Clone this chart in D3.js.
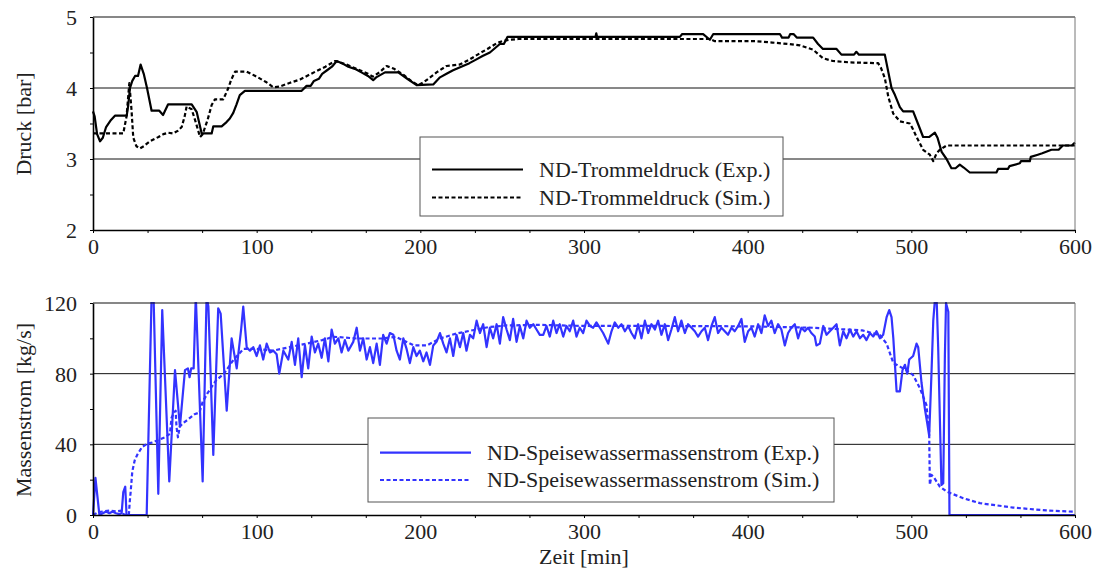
<!DOCTYPE html>
<html>
<head>
<meta charset="utf-8">
<script src="https://cdn.jsdelivr.net/npm/d3@7/dist/d3.min.js"></script>
<style>
  html, body { margin: 0; padding: 0; background: #fff; }
  svg { display: block; font-family: "Liberation Serif", "DejaVu Serif", serif; }
</style>
</head>
<body>
<svg id="chart" width="1095" height="572"></svg>
<script>
// ND-Trommeldruck, Messung [min] / [bar]
const druckExpZeit = [0,1,2.5,4.3,6,8,11,13.4,20.6,21.5,22.6,24,25.7,27.5,29.1,31,33,35.8,40.5,42.8,45.9,60.3,63.4,66.4,72.5,73.5,78.6,81.6,83.6,85.7,87.7,89.7,92.8,127.5,130.5,133,135,138,140,143,146,148.9,152,156,160,164,168,171.2,173,178.4,186.5,192,197.7,207.9,212,216,220,225,230,234,238,242.5,248.6,251,253.3,307,307.5,308,358.6,360,372.8,376.9,379,419.7,421,425,426,428,430,440,443,446,454.3,457.3,465,466.4,468,483.8,487.9,490,493,495,501.1,504,507.2,511,514.4,516,518.5,521.5,524.5,527,529.6,532,535.7,552,553,559,560,566.3,567,572.4,573,577.3,580,585.6,590,592.6,598,600];
const druckExpWert = [3.67,3.6,3.35,3.25,3.3,3.45,3.55,3.61,3.61,3.75,4.0,4.1,4.17,4.17,4.33,4.2,4.0,3.68,3.68,3.62,3.77,3.77,3.66,3.36,3.36,3.46,3.46,3.52,3.57,3.65,3.77,3.9,3.96,3.96,4.03,4.03,4.1,4.13,4.2,4.25,4.3,4.38,4.35,4.3,4.27,4.22,4.17,4.11,4.15,4.22,4.22,4.13,4.04,4.05,4.15,4.2,4.25,4.3,4.35,4.4,4.45,4.5,4.62,4.62,4.72,4.72,4.77,4.72,4.72,4.76,4.76,4.68,4.76,4.76,4.71,4.71,4.76,4.76,4.71,4.71,4.62,4.55,4.55,4.47,4.47,4.51,4.47,4.47,4.0,3.9,3.73,3.67,3.67,3.5,3.31,3.31,3.37,3.3,3.1,3.0,2.87,2.87,2.92,2.88,2.81,2.81,2.86,2.86,2.9,2.94,2.97,2.97,3.03,3.06,3.08,3.13,3.13,3.19,3.19,3.23];

// ND-Trommeldruck, Simulation
const druckSimZeit = [0,18.5,20.5,22.2,23.5,24.6,26.5,28.7,31,34.8,40,43,46,49,52,54.2,56,57.2,60.3,63,65.4,67,70,72.5,74.5,79.6,82.7,84.5,86.8,93.9,100,106,110.2,114,120,126.5,135,142,148,155,162,168,171,175,179.4,184,190,195,198.7,202,206,209.9,216,224,230,236.4,241,246.6,250,254.7,260,376.9,380,405,415,425,431.9,440,446,452,462.6,479.7,481.5,483.8,485.9,488.9,493,499.1,501,503.2,507.2,511.3,513.4,515.4,517.4,521.5,600];
const druckSimWert = [3.36,3.36,3.6,4.07,3.7,3.3,3.18,3.15,3.18,3.25,3.31,3.35,3.37,3.36,3.4,3.45,3.6,3.74,3.7,3.5,3.31,3.35,3.55,3.76,3.84,3.84,4.0,4.12,4.23,4.23,4.16,4.08,4.01,4.02,4.07,4.12,4.22,4.3,4.38,4.33,4.26,4.2,4.16,4.22,4.31,4.27,4.18,4.09,4.04,4.08,4.15,4.22,4.31,4.33,4.4,4.49,4.55,4.63,4.66,4.68,4.69,4.69,4.66,4.66,4.64,4.62,4.6,4.54,4.42,4.38,4.36,4.35,4.28,4.14,3.88,3.64,3.53,3.5,3.42,3.31,3.13,3.06,2.97,3.08,3.13,3.19,3.19];

// ND-Speisewassermassenstrom, Messung [min] / [kg/s]
const massExpZeit = [0,1.5,3.9,6,8,10,12,14,16,17.5,18.5,19.7,20.5,32.8,35.8,37,39.9,42.3,46.6,50.1,53.1,56.2,58,59,60,61.5,62.8,67,69.4,70.5,73.5,76.5,78,81.7,84.7,87.8,90.5,91.8,93.9,95.9,97.9,100,102,104,106.1,108.1,110.2,112.2,113.8,116.3,119.3,121.4,123.4,125.4,127.5,129.5,131.5,133.6,135.6,137.6,139.7,141.7,143.8,145.8,147.8,149.9,151.9,153.9,156,159,161.1,163.1,165.1,167.2,169.2,171.2,173.3,175.3,177.3,179.4,181.4,183.5,185.5,187.5,189.6,191.6,193.6,195.7,197.7,199.7,201.8,203.8,205.9,207.9,209.9,212,214,216,218.1,220.1,222.1,224.2,226.2,228.2,230.3,232.3,234.4,236.4,238.4,240.5,242.5,244.5,246.6,248.6,250.6,252.7,254.7,256.7,258.8,260.8,262.9,264.9,266.9,269,271,273,275.1,277.1,279.1,281.2,283.2,285.2,287.3,289.3,291.3,293.4,295.4,297.4,299.5,301.5,303.6,305.6,307.6,309.7,311.7,314.8,316.8,318.8,320.9,322.9,325,327,329,331,333.1,335.1,337.2,339.2,341.2,343.3,345.3,347.3,349.4,351.4,353.4,355.5,357.5,359.5,361.6,363.6,365.7,367.7,369.7,371.8,373.8,375.8,377.9,379.9,381.9,384,386,388,390.1,392.1,394.2,396.2,398.2,400.3,402.3,404.3,406.4,408.4,410.4,412.5,414.5,416.5,418.6,420.6,422.7,424.7,426.7,428.8,430.8,432.8,434.9,436.9,438.9,441,442,444.1,446.2,448.2,450.2,452.3,454.3,456.3,458.4,460.4,462.5,464.5,466.5,468.6,470.6,472.6,474.7,476.7,478.7,480.8,482.8,484.9,486.5,487.9,489,491,493,494.6,496.1,497.5,498.7,501.1,503.2,504.2,506.2,508.3,509.7,510.9,512.3,513.4,514.6,515.4,516.4,518.4,519.5,520.5,521.2,522.6,523.3,600];
const massExpWert = [0,21,0,1,2,1,2,1,0.5,1,13,16,0,0,124,124,12,116,19,82,50,82,83,78,83,83,124,19,124,118,34,117,114,59,100,83,105,118,95,93,95,90,96,88,97,92,93,91,80,93,88,98,85,100,78,96,83,101,92,97,89,100,87,105,97,100,92,99,93,98,106,93,100,88,95,86,97,85,102,97,103,102,93,88,100,94,86,95,90,93,87,92,85,96,98,103,97,92,100,90,102,95,103,93,102,100,110,103,108,95,106,100,108,97,112,105,99,111,98,107,100,110,106,108,105,102,102,107,101,110,103,108,101,107,104,110,101,106,103,110,107,106,109,106,103,97,104,109,106,108,104,107,103,100,108,100,110,103,108,105,110,102,108,99,105,112,104,110,103,108,106,104,101,104,106,99,107,112,103,106,104,102,106,104,107,111,98,104,106,101,108,103,113,107,110,103,108,105,96,103,106,108,100,106,104,106,103,101,96,97,107,102,104,106,108,96,104,100,105,101,104,100,102,99,103,101,104,100,102,112,116,112,100,70,70,82,85,80,88,90,97,95,75,60,52,45,80,110,124,124,95,17,18,90,120,115,0,0];

// ND-Speisewassermassenstrom, Simulation
const massSimZeit = [0,3,6,10,14,17.5,18.5,20,21.9,22.5,23,24,25.5,27,30,33.5,36,40,44,47,48,49.5,50.5,51,51.9,53,55,58,62,65,67,70,75,80,86,92,100,110,120,130.5,140,147,161,177,185,196,204,212,222,232,242,253,273,300,350,400,440,470,480.8,484.9,489,493,497,501,505.2,509.2,510.9,511.3,512.4,514,517.4,521.5,531.7,541.9,562.2,582.6,600];
const massSimWert = [0,1.5,2,2.5,2,2.5,0.5,0,0,8,13,24.6,31,34,38.5,40.5,41,42.5,44,46,55,58,59,50,44,50,52,54,57,58,64,69,76,80,88,94,94,93,95,97,99,100.9,99.9,99.9,100.9,96,96,99.9,102.7,104.6,106.4,107.3,107.6,107,107,106.8,106,104.5,101.8,97,86,84,82,79.3,71.8,62.3,47.3,17.1,22.7,21,16.1,13.3,9.5,6.7,4.2,2.6,1.8];

// Achsen
const zeitTicks = [0, 100, 200, 300, 400, 500, 600];
const druckTicks = [2, 3, 4, 5];
const massTicks = [0, 40, 80, 120];

const legendeDruck = ["ND-Trommeldruck (Exp.)", "ND-Trommeldruck (Sim.)"];
const legendeMasse = ["ND-Speisewassermassenstrom (Exp.)", "ND-Speisewassermassenstrom (Sim.)"];

const BLAU = "#3333ff";
const TEXT = "#222";
const FS = 22;

const svg = d3.select("#chart");
const x = d3.scaleLinear().domain([0, 600]).range([93, 1075]);

function panel(id, cfg) {
  const y = d3.scaleLinear().domain(cfg.domain).range([cfg.bottom, cfg.top]);
  const g = svg.append("g");
  const [x0, x1] = x.range();

  g.append("clipPath").attr("id", "clip-" + id)
    .append("rect").attr("x", x0 - 1).attr("y", cfg.top - 1)
    .attr("width", x1 - x0 + 2).attr("height", cfg.bottom - cfg.top + 3);

  // Gitterlinien
  g.selectAll(".grid").data(cfg.grid).join("line")
    .attr("x1", x0).attr("x2", x1)
    .attr("y1", d => y(d)).attr("y2", d => y(d))
    .attr("stroke", "#111").attr("stroke-width", 1);

  // Kurven
  const line = d3.line().x(d => x(d[0])).y(d => y(d[1]));
  cfg.series.forEach(s => {
    const pts = s.t.map((t, i) => [t, s.v[i]]);
    g.append("path").datum(pts)
      .attr("d", line)
      .attr("clip-path", `url(#clip-${id})`)
      .attr("fill", "none")
      .attr("stroke", s.color)
      .attr("stroke-width", 2.2)
      .attr("stroke-linejoin", "round")
      .attr("stroke-dasharray", s.dash ? "4,2.5" : null);
  });

  // Rahmen oben/rechts
  g.append("line").attr("x1", x0).attr("x2", x1).attr("y1", cfg.top).attr("y2", cfg.top)
    .attr("stroke", "#111").attr("stroke-width", 1.2);
  g.append("line").attr("x1", x1).attr("x2", x1).attr("y1", cfg.top).attr("y2", cfg.bottom)
    .attr("stroke", "#777").attr("stroke-width", 1);

  // x-Achse
  const xAxis = d3.axisBottom(x)
    .tickValues(d3.range(0, 601, 100 / 3))
    .tickSize(3).tickSizeOuter(0)
    .tickFormat(d => zeitTicks.includes(Math.round(d)) && Math.abs(d - Math.round(d)) < 1e-6 ? d3.format("d")(d) : "");
  const ax = g.append("g").attr("transform", `translate(0,${cfg.bottom})`).call(xAxis);
  ax.select(".domain").attr("stroke", "#000").attr("stroke-width", 1.6);
  ax.selectAll(".tick line").attr("stroke", "#000").attr("stroke-width", 1);
  ax.selectAll(".tick text").attr("font-size", FS).attr("fill", TEXT)
    .attr("font-family", "Liberation Serif, serif").attr("y", 0).attr("dy", 24);

  // y-Achse
  const step = (cfg.domain[1] - cfg.domain[0]) / 6;
  const yAxis = d3.axisLeft(y)
    .tickValues(d3.range(cfg.domain[0], cfg.domain[1] + step / 2, step))
    .tickSize(3).tickSizeOuter(0)
    .tickFormat(d => cfg.ticks.some(v => Math.abs(v - d) < 1e-6) ? d3.format("d")(d) : "");
  const ay = g.append("g").attr("transform", `translate(${x0},0)`).call(yAxis);
  ay.select(".domain").attr("stroke", "#000").attr("stroke-width", 1.6);
  ay.selectAll(".tick line").attr("stroke", "#000").attr("stroke-width", 1);
  ay.selectAll(".tick text").attr("font-size", FS).attr("fill", TEXT)
    .attr("font-family", "Liberation Serif, serif").attr("x", -16).attr("dy", 7.5);

  // y-Achsentitel
  g.append("text")
    .attr("transform", `translate(31,${cfg.titleY}) rotate(-90)`)
    .attr("text-anchor", "middle").attr("font-size", FS).attr("fill", TEXT)
    .text(cfg.title);

  // Legende
  const L = cfg.legend;
  g.append("rect").attr("x", L.x).attr("y", L.y).attr("width", L.w).attr("height", L.h)
    .attr("fill", "#fff").attr("stroke", "#555").attr("stroke-width", 1);
  L.labels.forEach((lab, i) => {
    const ly = L.rowY[i];
    g.append("line").attr("x1", L.x + 12).attr("x2", L.x + 103).attr("y1", ly).attr("y2", ly)
      .attr("stroke", cfg.series[i].color).attr("stroke-width", 2.2)
      .attr("stroke-dasharray", cfg.series[i].dash ? "4,2.5" : null);
    g.append("text").attr("x", L.x + 119).attr("y", ly + 7)
      .attr("font-size", FS).attr("fill", TEXT).text(lab);
  });
}

panel("druck", {
  top: 17, bottom: 230, domain: [2, 5], grid: [3, 4], ticks: druckTicks,
  title: "Druck [bar]", titleY: 124,
  series: [
    { t: druckExpZeit, v: druckExpWert, color: "#000", dash: false },
    { t: druckSimZeit, v: druckSimWert, color: "#000", dash: true }
  ],
  legend: { x: 420, y: 137, w: 363, h: 79, rowY: [169.5, 197.5], labels: legendeDruck }
});

panel("masse", {
  top: 303, bottom: 515, domain: [0, 120], grid: [40, 80], ticks: massTicks,
  title: "Massenstrom [kg/s]", titleY: 410,
  series: [
    { t: massExpZeit, v: massExpWert, color: BLAU, dash: false },
    { t: massSimZeit, v: massSimWert, color: BLAU, dash: true }
  ],
  legend: { x: 368, y: 418, w: 466, h: 84, rowY: [452.7, 480], labels: legendeMasse }
});

// x-Achsentitel
svg.append("text").attr("x", 584).attr("y", 564)
  .attr("text-anchor", "middle").attr("font-size", FS).attr("fill", TEXT)
  .text("Zeit [min]");
</script>
</body>
</html>
